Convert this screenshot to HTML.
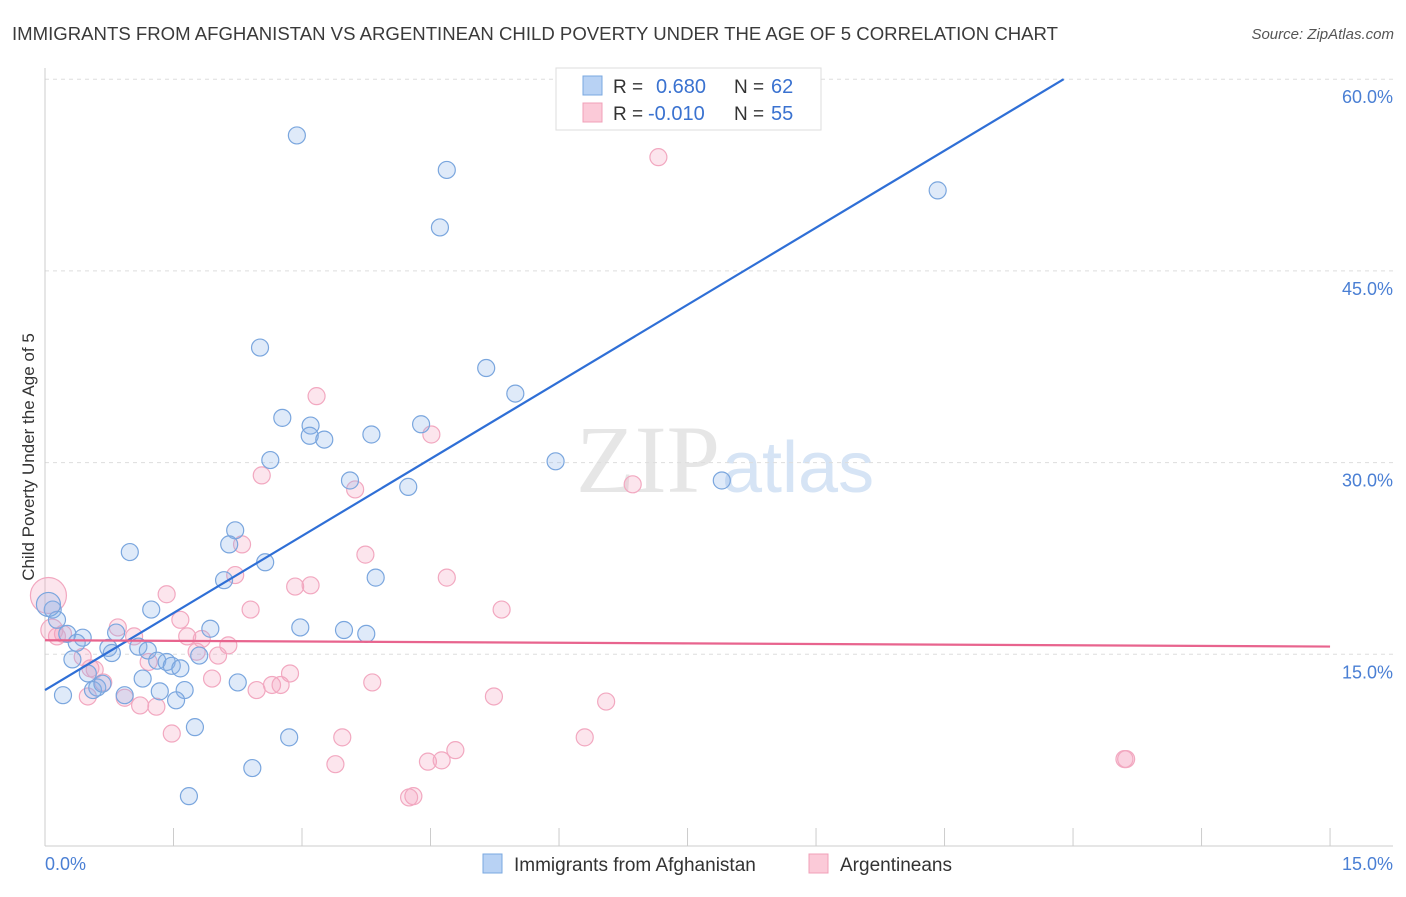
<!DOCTYPE html>
<html><head><meta charset="utf-8"><style>
body{margin:0;background:#fff;font-family:"Liberation Sans",sans-serif;}
</style></head><body>
<svg width="1406" height="892" viewBox="0 0 1406 892" xmlns="http://www.w3.org/2000/svg" font-family="Liberation Sans, sans-serif">
<text x="12" y="40" font-size="18" fill="#3a3a3a" textLength="1046" lengthAdjust="spacingAndGlyphs">IMMIGRANTS FROM AFGHANISTAN VS ARGENTINEAN CHILD POVERTY UNDER THE AGE OF 5 CORRELATION CHART</text>
<text x="1394" y="39" font-size="15" fill="#555" text-anchor="end" font-style="italic">Source: ZipAtlas.com</text>
<text x="720" y="492" font-size="96" fill="#e6e6e6" text-anchor="end" font-family="Liberation Serif, serif">ZIP</text>
<text x="722" y="492" font-size="72" fill="#d6e4f5">atlas</text>
<g id="grid"></g>
<g id="axes"></g>
<text transform="translate(34,457) rotate(-90)" font-size="17" fill="#333" text-anchor="middle">Child Poverty Under the Age of 5</text>
<g id="pts"></g>
<g id="lines"></g>
<g>
<rect x="556" y="68" width="265" height="62" fill="#fff" stroke="#ddd"/>
<rect x="583" y="76" width="19" height="19" fill="#b8d2f4" stroke="#7aa8e0"/>
<rect x="583" y="103" width="19" height="19" fill="#fbcad8" stroke="#f0a0b8"/>
<text x="613" y="93" font-size="19" fill="#333">R =</text>
<text x="656" y="93" font-size="20" fill="#3a72d0">0.680</text>
<text x="734" y="93" font-size="19" fill="#333">N =</text>
<text x="771" y="93" font-size="20" fill="#3a72d0">62</text>
<text x="613" y="120" font-size="19" fill="#333">R =</text>
<text x="648" y="120" font-size="20" fill="#3a72d0">-0.010</text>
<text x="734" y="120" font-size="19" fill="#333">N =</text>
<text x="771" y="120" font-size="20" fill="#3a72d0">55</text>
</g>
<g>
<rect x="483" y="854" width="19" height="19" fill="#b8d2f4" stroke="#7aa8e0"/>
<text x="514" y="871" font-size="19" fill="#333">Immigrants from Afghanistan</text>
<rect x="809" y="854" width="19" height="19" fill="#fbcad8" stroke="#f0a0b8"/>
<text x="840" y="871" font-size="19" fill="#333">Argentineans</text>
</g>
</svg>
<script>
const blueX=[2.94,4.69,4.61,10.42,2.51,5.15,5.49,2.77,3.10,3.09,3.26,3.81,4.39,2.63,5.96,3.56,4.24,7.90,2.22,2.15,0.99,2.57,2.09,3.86,1.24,2.98,3.49,3.75,1.93,0.09,0.14,0.26,0.44,0.37,0.83,0.74,0.78,1.09,1.20,1.31,1.42,1.48,1.58,1.80,0.32,0.50,1.14,2.25,0.61,0.56,0.67,0.93,1.34,1.63,0.21,1.53,1.75,2.85,2.42,1.68,0.04];
const blueY=[55.6,52.9,48.4,51.3,39.0,37.4,35.4,33.5,32.9,32.1,31.8,32.2,33.0,30.2,30.1,28.6,28.1,28.6,24.7,23.6,23.0,22.2,20.8,21.0,18.5,17.1,16.9,16.6,17.0,18.5,17.7,16.6,16.3,15.9,16.7,15.5,15.1,15.6,15.3,14.5,14.4,14.1,13.9,14.9,14.6,13.5,13.1,12.8,12.4,12.2,12.7,11.8,12.1,12.2,11.8,11.4,9.3,8.5,6.1,3.9,18.9];
const pinkX=[7.16,3.17,4.51,2.53,3.62,6.86,2.30,3.74,2.22,4.69,2.92,3.10,1.42,5.33,2.40,1.58,0.85,1.04,1.66,1.83,2.14,2.02,1.77,0.21,0.14,0.44,0.58,1.21,2.86,1.95,2.65,2.75,2.47,3.82,0.68,0.50,0.93,1.11,1.30,5.24,6.55,1.48,3.47,6.30,3.39,4.47,4.63,4.79,4.30,4.25,12.62,12.60,0.04,0.08,0.53];
const pinkY=[53.9,35.2,32.2,29.0,27.9,28.3,23.6,22.8,21.2,21.0,20.3,20.4,19.7,18.5,18.5,17.7,17.1,16.4,16.4,16.2,15.7,14.9,15.2,16.6,16.4,14.8,13.8,14.4,13.5,13.1,12.6,12.6,12.2,12.8,12.8,11.7,11.6,11.0,10.9,11.7,11.3,8.8,8.5,8.5,6.4,6.6,6.7,7.5,3.9,3.8,6.8,6.8,19.6,16.9,13.9];
const yTicks=[15,30,45,60];
const yTickLabels=["15.0%","30.0%","45.0%","60.0%"];
const xTicks=[0,1.5,3,4.5,6,7.5,9,10.5,12,13.5,15];
const blueLine=[12.2,4.02];
const pinkLine=[16.1,-0.033];
const NS="http://www.w3.org/2000/svg";
const sx=v=>45+v*85.67, sy=v=>846-v*12.78;
function mk(t,a,p){const e=document.createElementNS(NS,t);for(const k in a)e.setAttribute(k,a[k]);p.appendChild(e);return e;}
const grid=document.getElementById('grid'),axes=document.getElementById('axes');
yTicks.forEach((v,i)=>{
  const l=mk('line',{x1:45,x2:1393,y1:sy(v),y2:sy(v),stroke:'#ddd','stroke-dasharray':'4,4'},grid);
  
  
  const t=mk('text',{x:1393,y:sy(v)+24,'font-size':18,fill:'#4a7fd4','text-anchor':'end'},axes);
  t.textContent=yTickLabels[i];
  
  
});
mk('line',{x1:45,x2:45,y1:68,y2:846,stroke:'#ccc'},axes);
mk('line',{x1:45,x2:1393,y1:846,y2:846,stroke:'#ccc'},axes);
xTicks.forEach(v=>{
  const l=mk('line',{x1:sx(v),x2:sx(v),y1:828,y2:846,stroke:'#ccc'},axes);
  
  
});
const x0=mk('text',{x:45,y:870,'font-size':18,fill:'#4a7fd4'},axes);x0.textContent='0.0%';


const x1=mk('text',{x:1393,y:870,'font-size':18,fill:'#4a7fd4','text-anchor':'end'},axes);x1.textContent='15.0%';


const pts=document.getElementById('pts');
pinkX.forEach((x,i)=>{
  const big=(i>=52&&i<=53);
  const c=mk('circle',{cx:sx(x),cy:sy(pinkY[i]),r:big?(i==52?18:11):8.5,fill:'rgba(246,160,190,0.28)',stroke:'#f2a8c0','stroke-width':1.2},pts);
  
  
});
blueX.forEach((x,i)=>{
  const c=mk('circle',{cx:sx(x),cy:sy(blueY[i]),r:i==60?12:8.5,fill:'rgba(140,180,235,0.28)',stroke:'#7aa6de','stroke-width':1.2},pts);
  
  
});
const lines=document.getElementById('lines');
const xe=(60-blueLine[0])/blueLine[1];
const bl=mk('line',{x1:sx(0),y1:sy(blueLine[0]),x2:sx(xe),y2:sy(60),stroke:'#2f6fd6','stroke-width':2.2},lines);


const pl=mk('line',{x1:sx(0),y1:sy(pinkLine[0]),x2:sx(15),y2:sy(pinkLine[0]+pinkLine[1]*15),stroke:'#e8648e','stroke-width':2.2},lines);


</script>
</body></html>
